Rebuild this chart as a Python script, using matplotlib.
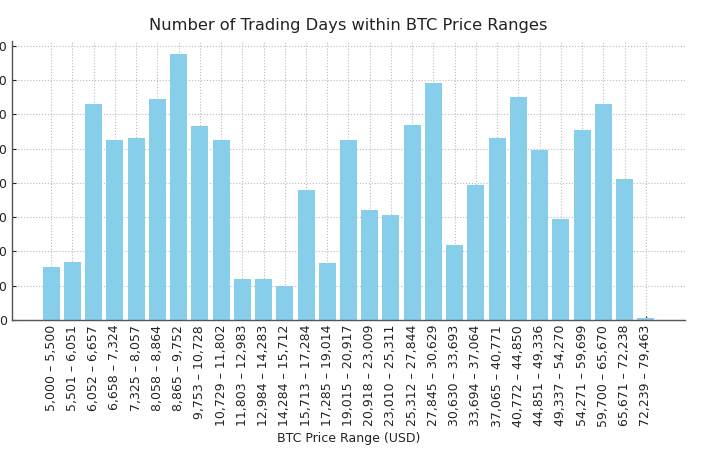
import matplotlib
matplotlib.use("Agg")
import matplotlib.pyplot as plt

range_starts = [5000, 5501, 6052, 6658, 7325, 8058, 8865, 9753, 10729, 11803,
                12984, 14284, 15713, 17285, 19015, 20918, 23010, 25312, 27845, 30630,
                33694, 37065, 40772, 44851, 49337, 54271, 59700, 65671, 72239]
range_ends = [5500, 6051, 6657, 7324, 8057, 8864, 9752, 10728, 11802, 12983,
              14283, 15712, 17284, 19014, 20917, 23009, 25311, 27844, 30629, 33693,
              37064, 40771, 44850, 49336, 54270, 59699, 65670, 72238, 79463]
days = [31, 34, 126, 105, 106, 129, 155, 113, 105, 24,
        24, 20, 76, 33, 105, 64, 61, 114, 138, 44,
        79, 106, 130, 99, 59, 111, 126, 82, 1]
labels = [f"{a:,} – {b:,}" for a, b in zip(range_starts, range_ends)]

fig = plt.figure(figsize=(7.10, 4.58), dpi=100)
ax = fig.add_axes([12/710, 1 - 320/458, (685 - 12)/710, (320 - 41)/458])

x = list(range(len(days)))
ax.bar(x, days, width=0.8, color="#87CEEB", zorder=2)
ax.set_xticks(x)
ax.set_xticklabels(labels, rotation=90, fontsize=9, color="#222222")
ax.set_yticks(range(0, 161, 20))
ax.tick_params(axis="y", labelsize=9, direction="in", length=3, colors="#222222")
ax.tick_params(axis="x", direction="in", length=3, colors="#222222")
ax.set_ylim(0, 162.75)

ax.set_axisbelow(True)
ax.grid(True, linestyle=":", color="#bbbbbb", linewidth=0.8)
for s in ["top", "right"]:
    ax.spines[s].set_visible(False)
for s in ["left", "bottom"]:
    ax.spines[s].set_color("#555555")
    ax.spines[s].set_linewidth(1.0)

ax.set_title("Number of Trading Days within BTC Price Ranges", fontsize=11.7,
             color="#222222", pad=8)
ax.set_xlabel("BTC Price Range (USD)", fontsize=9, color="#222222", labelpad=4)

fig.savefig("out.png", dpi=100)
